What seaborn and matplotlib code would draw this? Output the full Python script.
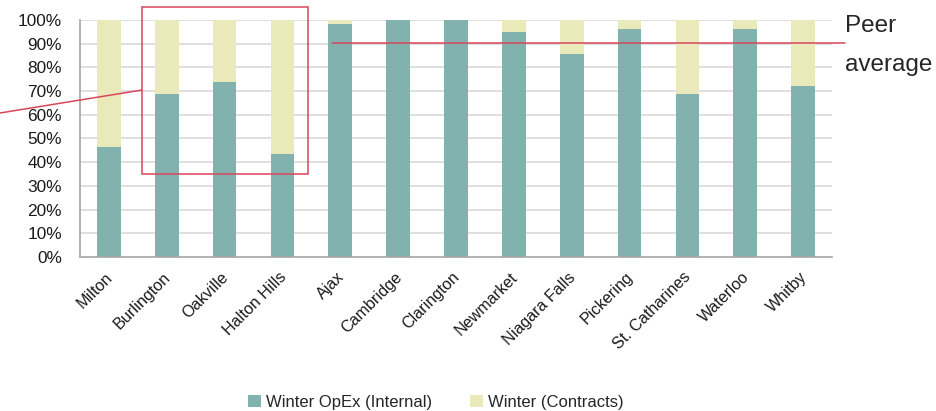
import matplotlib
matplotlib.use("Agg")
import matplotlib.pyplot as plt
import matplotlib.transforms as mtransforms
import seaborn as sns
import pandas as pd
from matplotlib.patches import Rectangle, Patch
from matplotlib.lines import Line2D

municipalities = ["Milton", "Burlington", "Oakville", "Halton Hills", "Ajax", "Cambridge",
                  "Clarington", "Newmarket", "Niagara Falls", "Pickering", "St. Catharines",
                  "Waterloo", "Whitby"]
internal_pct = [46.5, 68.6, 73.8, 43.5, 98.3, 100, 100, 94.8, 85.7, 96.2, 68.8, 96.2, 72.2]
contracts_pct = [100 - v for v in internal_pct]
peer_average = 90.4
y_ticks = list(range(0, 101, 10))

TEAL = "#82B2AE"
BEIGE = "#EAE9BA"
RED = "#D9465C"

sns.set_theme(style="white")
plt.rcParams["font.family"] = ["Liberation Sans", "DejaVu Sans"]

df = pd.DataFrame({"municipality": municipalities,
                   "internal": internal_pct,
                   "contracts": contracts_pct})

fig = plt.figure(figsize=(9.37, 4.11), dpi=100)
ax = fig.add_axes([80 / 937, 1 - 257 / 411, 752 / 937, 237 / 411])

for y in y_ticks[1:]:
    ax.axhline(y, color="#D9D9D9", lw=1.2, zorder=0)

sns.barplot(data=df, x="municipality", y="internal", color=TEAL, width=0.41,
            saturation=1, ax=ax, zorder=2, linewidth=0)
sns.barplot(data=df, x="municipality", y="contracts", bottom=df["internal"], color=BEIGE,
            width=0.41, saturation=1, ax=ax, zorder=2, linewidth=0)

ax.set_xlim(-0.5, len(municipalities) - 0.5)
ax.set_ylim(0, 100)
ax.set_yticks(y_ticks)
ax.set_yticklabels([f"{t}%" for t in y_ticks], fontsize=12.4, color="#1a1a1a")
ax.set_xticks(range(len(municipalities)))
ax.set_xticklabels(municipalities, rotation=45, ha="right", rotation_mode="anchor",
                   fontsize=11.6, color="#1a1a1a")
ax.tick_params(axis="y", length=0, pad=13)
ax.tick_params(axis="x", length=0, pad=9)
shift = mtransforms.ScaledTranslation(-4 / 100, 0, fig.dpi_scale_trans)
for lbl in ax.get_xticklabels():
    lbl.set_transform(lbl.get_transform() + shift)
ax.set_xlabel("")
ax.set_ylabel("")
for side in ["top", "right"]:
    ax.spines[side].set_visible(False)
for side in ["left", "bottom"]:
    ax.spines[side].set_color("#A6A6A6")
    ax.spines[side].set_linewidth(1.2)

# Peer average reference line and label
ax.plot([3.86, 12.72], [peer_average, peer_average], color=RED, lw=1.1,
        clip_on=False, zorder=4)
fig.text(845 / 937, 1 - 26 / 411, "Peer", fontsize=17.5, va="center", ha="left")
fig.text(845 / 937, 1 - 65 / 411, "average", fontsize=17.5, va="center", ha="left")

# Halton group highlight box with callout line
ax.add_patch(Rectangle((0.57, 35.0), 2.88, 70.3, fill=False, edgecolor=RED, lw=1.1,
                       clip_on=False, zorder=5))
fig.add_artist(Line2D([0, 142 / 937], [1 - 113 / 411, 1 - 90 / 411], color=RED, lw=1.1))

handles = [Patch(facecolor=TEAL, edgecolor="none", label="Winter OpEx (Internal)"),
           Patch(facecolor=BEIGE, edgecolor="none", label="Winter (Contracts)")]
fig.legend(handles=handles, loc="center", bbox_to_anchor=(436 / 937, 1 - 402 / 411),
           ncol=2, frameon=False, fontsize=12, handlelength=0.75, handleheight=0.75,
           handletextpad=0.3, columnspacing=2.3)

fig.savefig("out.png", dpi=100)
